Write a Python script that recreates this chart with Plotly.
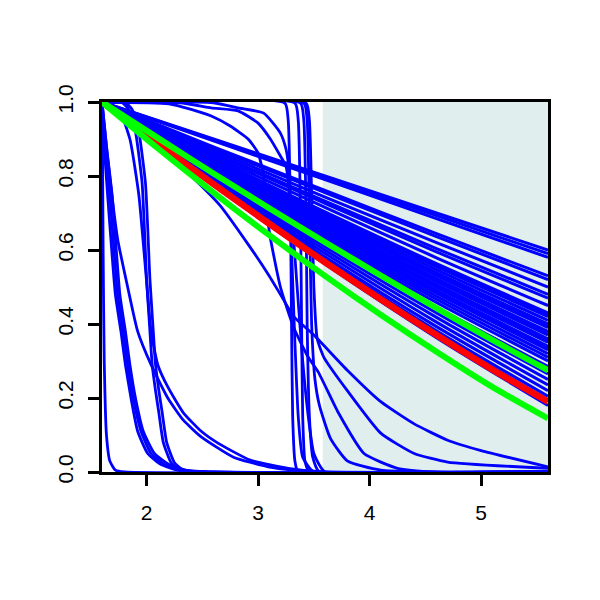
import plotly.graph_objects as go

# ---------------- data ----------------
X_RANGE = [1.6, 5.6]
SHADE_X = [3.58, 5.6]

# dense band of near-linear blue curves: values at these x positions
band_x = [1.6, 2.6, 3.6, 4.6, 5.6]
band_y = [
    [1, 0.900, 0.800, 0.700, 0.600],
    [1, 0.898, 0.795, 0.693, 0.590],
    [1, 0.895, 0.790, 0.685, 0.580],
    [1, 0.879, 0.761, 0.644, 0.530],
    [1, 0.876, 0.755, 0.636, 0.520],
    [1, 0.870, 0.743, 0.620, 0.500],
    [1, 0.864, 0.732, 0.604, 0.480],
    [1, 0.861, 0.726, 0.595, 0.470],
    [1, 0.855, 0.715, 0.579, 0.450],
    [1, 0.849, 0.703, 0.563, 0.430],
    [1, 0.847, 0.701, 0.559, 0.425],
    [1, 0.846, 0.698, 0.555, 0.420],
    [1, 0.843, 0.692, 0.547, 0.410],
    [1, 0.840, 0.686, 0.539, 0.400],
    [1, 0.839, 0.684, 0.535, 0.395],
    [1, 0.837, 0.681, 0.531, 0.390],
    [1, 0.834, 0.675, 0.523, 0.380],
    [1, 0.833, 0.672, 0.519, 0.375],
    [1, 0.831, 0.669, 0.515, 0.370],
    [1, 0.828, 0.664, 0.507, 0.360],
    [1, 0.827, 0.661, 0.503, 0.355],
    [1, 0.825, 0.658, 0.499, 0.350],
    [1, 0.822, 0.652, 0.491, 0.340],
    [1, 0.821, 0.650, 0.487, 0.335],
    [1, 0.819, 0.647, 0.483, 0.330],
    [1, 0.816, 0.641, 0.475, 0.320],
    [1, 0.813, 0.635, 0.467, 0.310],
    [1, 0.810, 0.629, 0.458, 0.300],
    [1, 0.805, 0.620, 0.446, 0.285],
    [1, 0.799, 0.609, 0.430, 0.265],
    [1, 0.795, 0.600, 0.418, 0.250],
    [1, 0.790, 0.591, 0.405, 0.235],
    [1, 0.785, 0.582, 0.393, 0.220],
    [1, 0.781, 0.575, 0.382, 0.205],
    [1, 0.779, 0.570, 0.374, 0.195],
    [1, 0.775, 0.562, 0.363, 0.180],
]

# other blue curves (steep drops and tails): explicit (x, y) points
other_curves = [
    # early drops near the left edge
    ([1.6, 1.605, 1.61, 1.62, 1.64, 1.67, 1.72, 1.8, 5.6],
     [1.0, 0.85, 0.60, 0.30, 0.10, 0.03, 0.005, 0.0, 0.0]),
    ([1.6, 1.62, 1.65, 1.72, 1.77, 1.81, 1.86, 1.92, 2.01, 2.13, 2.28, 2.5, 5.6],
     [1.0, 0.88, 0.75, 0.48, 0.38, 0.29, 0.20, 0.11, 0.05, 0.02, 0.005, 0.0, 0.0]),
    ([1.6, 1.63, 1.67, 1.74, 1.79, 1.83, 1.88, 1.95, 2.04, 2.16, 2.3, 2.5, 5.6],
     [1.0, 0.88, 0.75, 0.48, 0.38, 0.29, 0.20, 0.11, 0.05, 0.02, 0.005, 0.0, 0.0]),
    ([1.6, 1.64, 1.69, 1.76, 1.81, 1.85, 1.9, 1.97, 2.07, 2.2, 2.35, 2.6, 5.6],
     [1.0, 0.88, 0.75, 0.48, 0.38, 0.29, 0.20, 0.11, 0.05, 0.02, 0.005, 0.0, 0.0]),
    # slower decays with long tails
    ([1.6, 1.65, 1.74, 1.83, 1.92, 2.04, 2.19, 2.33, 2.49, 2.78, 3.09, 3.32, 3.6, 5.6],
     [1.0, 0.85, 0.63, 0.50, 0.38, 0.29, 0.20, 0.14, 0.095, 0.04, 0.014, 0.005, 0.0, 0.0]),
    ([1.6, 1.75, 1.85, 1.93, 1.99, 2.04, 2.1, 2.19, 2.33, 2.49, 2.64, 2.93, 3.27, 3.6, 5.6],
     [1.0, 0.98, 0.90, 0.75, 0.55, 0.38, 0.29, 0.23, 0.16, 0.11, 0.078, 0.032, 0.01, 0.0, 0.0]),
    # drops around x = 2.0
    ([1.6, 1.78, 1.84, 1.9, 1.96, 2.0, 2.03, 2.05, 2.08, 2.11, 2.15, 2.22, 2.3, 2.5, 5.6],
     [1.0, 0.998, 0.98, 0.92, 0.78, 0.52, 0.38, 0.29, 0.22, 0.16, 0.08, 0.025, 0.005, 0.0, 0.0]),
    ([1.6, 1.81, 1.87, 1.93, 1.99, 2.03, 2.06, 2.08, 2.11, 2.14, 2.18, 2.25, 2.33, 2.5, 5.6],
     [1.0, 0.998, 0.98, 0.92, 0.78, 0.52, 0.38, 0.29, 0.22, 0.16, 0.08, 0.025, 0.005, 0.0, 0.0]),
    # rounded shoulders near the top
    ([1.6, 2.2, 2.40, 2.58, 2.75, 2.91, 3.0, 3.05, 3.1, 3.2, 3.32, 3.45, 3.54, 3.72, 3.95, 4.25, 4.6, 5.6],
     [1.0, 0.995, 0.98, 0.962, 0.935, 0.90, 0.862, 0.80, 0.65, 0.50, 0.39, 0.31, 0.27, 0.16, 0.05, 0.01, 0.0, 0.0]),
    ([1.6, 2.3, 2.58, 2.82, 3.0, 3.11, 3.2, 3.25, 3.3, 3.35, 3.4, 3.45, 3.5, 3.6, 5.6],
     [1.0, 0.998, 0.984, 0.976, 0.943, 0.90, 0.854, 0.827, 0.70, 0.50, 0.30, 0.15, 0.05, 0.0, 0.0]),
    ([1.6, 2.6, 2.82, 3.05, 3.2, 3.25, 3.27, 3.3, 3.33, 3.36, 3.4, 3.5, 5.6],
     [1.0, 0.998, 0.984, 0.97, 0.916, 0.873, 0.835, 0.60, 0.35, 0.15, 0.04, 0.0, 0.0]),
    # near-vertical drops around x = 3.3 - 3.5
    ([1.6, 3.24, 3.27, 3.29, 3.30, 3.31, 3.33, 3.36, 5.6],
     [0.997, 0.997, 0.95, 0.70, 0.40, 0.15, 0.03, 0.0, 0.0]),
    ([1.6, 3.33, 3.36, 3.38, 3.39, 3.40, 3.42, 3.46, 5.6],
     [0.997, 0.997, 0.95, 0.70, 0.40, 0.15, 0.03, 0.0, 0.0]),
    ([1.6, 3.38, 3.41, 3.43, 3.44, 3.46, 3.49, 3.55, 5.6],
     [0.997, 0.997, 0.95, 0.70, 0.40, 0.15, 0.04, 0.0, 0.0]),
    ([1.6, 3.41, 3.44, 3.46, 3.48, 3.51, 3.55, 3.65, 3.8, 4.1, 5.6],
     [0.997, 0.997, 0.95, 0.70, 0.40, 0.25, 0.18, 0.09, 0.03, 0.005, 0.0]),
    ([1.6, 3.43, 3.46, 3.48, 3.50, 3.53, 3.59, 3.8, 4.1, 4.4, 4.7, 5.6],
     [0.997, 0.997, 0.95, 0.75, 0.50, 0.36, 0.31, 0.22, 0.105, 0.05, 0.027, 0.01]),
    # from the band into a long tail
    ([1.6, 2.0, 2.4, 2.66, 2.9, 3.1, 3.2, 3.32, 3.5, 3.8, 4.1, 4.4, 4.7, 5.0, 5.6],
     [1.0, 0.91, 0.80, 0.72, 0.62, 0.53, 0.48, 0.42, 0.37, 0.275, 0.19, 0.13, 0.086, 0.058, 0.014]),
]

# red (central) and green (bounds)
main_x = [1.6, 2.1, 2.6, 3.1, 3.6, 4.1, 4.6, 5.1, 5.6]
red_y = [1.0, 0.888, 0.778, 0.671, 0.567, 0.467, 0.370, 0.277, 0.190]
green_upper_y = [1.0, 0.903, 0.807, 0.713, 0.621, 0.531, 0.443, 0.357, 0.275]
green_lower_y = [1.0, 0.875, 0.755, 0.640, 0.530, 0.425, 0.325, 0.230, 0.145]

x_ticks = [2, 3, 4, 5]
y_ticks = [0.0, 0.2, 0.4, 0.6, 0.8, 1.0]
y_tick_text = ["0.0", "0.2", "0.4", "0.6", "0.8", "1.0"]

# ---------------- figure ----------------
BLUE = "#0000FF"
fig = go.Figure()

for ys in band_y:
    fig.add_trace(go.Scatter(x=band_x, y=ys, mode="lines",
                             line=dict(color=BLUE, width=3, shape="spline", smoothing=0.8),
                             hoverinfo="skip"))
for xs, ys in other_curves:
    fig.add_trace(go.Scatter(x=xs, y=ys, mode="lines",
                             line=dict(color=BLUE, width=2.8, shape="spline", smoothing=0.5),
                             hoverinfo="skip"))

fig.add_trace(go.Scatter(x=main_x, y=red_y, mode="lines",
                         line=dict(color="#FF0000", width=6.5, shape="spline", smoothing=0.8)))
fig.add_trace(go.Scatter(x=main_x, y=green_upper_y, mode="lines",
                         line=dict(color="#00FF00", width=6, shape="spline", smoothing=0.8)))
fig.add_trace(go.Scatter(x=main_x, y=green_lower_y, mode="lines",
                         line=dict(color="#00FF00", width=6, shape="spline", smoothing=0.8)))

fig.add_shape(type="rect", xref="x", yref="y",
              x0=SHADE_X[0], x1=SHADE_X[1], y0=0, y1=1,
              fillcolor="#E0EEEE", line=dict(width=0), layer="below")

axis_common = dict(showgrid=False, zeroline=False, showline=True, linecolor="black",
                   linewidth=2.5, mirror=True, ticks="outside", ticklen=11, tickwidth=2.5,
                   tickcolor="black",
                   tickfont=dict(family="Liberation Sans, Arial, sans-serif", size=21, color="black"))

fig.update_xaxes(range=X_RANGE, tickvals=x_ticks, ticklabelstandoff=9, **axis_common)
fig.update_yaxes(range=[0, 1], tickvals=y_ticks, ticktext=y_tick_text, tickangle=-90,
                 ticklabelstandoff=7, **axis_common)

# page body adds an 8px offset, so margins are shifted accordingly
fig.update_layout(width=600, height=600, showlegend=False,
                  paper_bgcolor="white", plot_bgcolor="white",
                  margin=dict(l=94, r=60, t=94, b=136))

fig.write_html("out.html")
